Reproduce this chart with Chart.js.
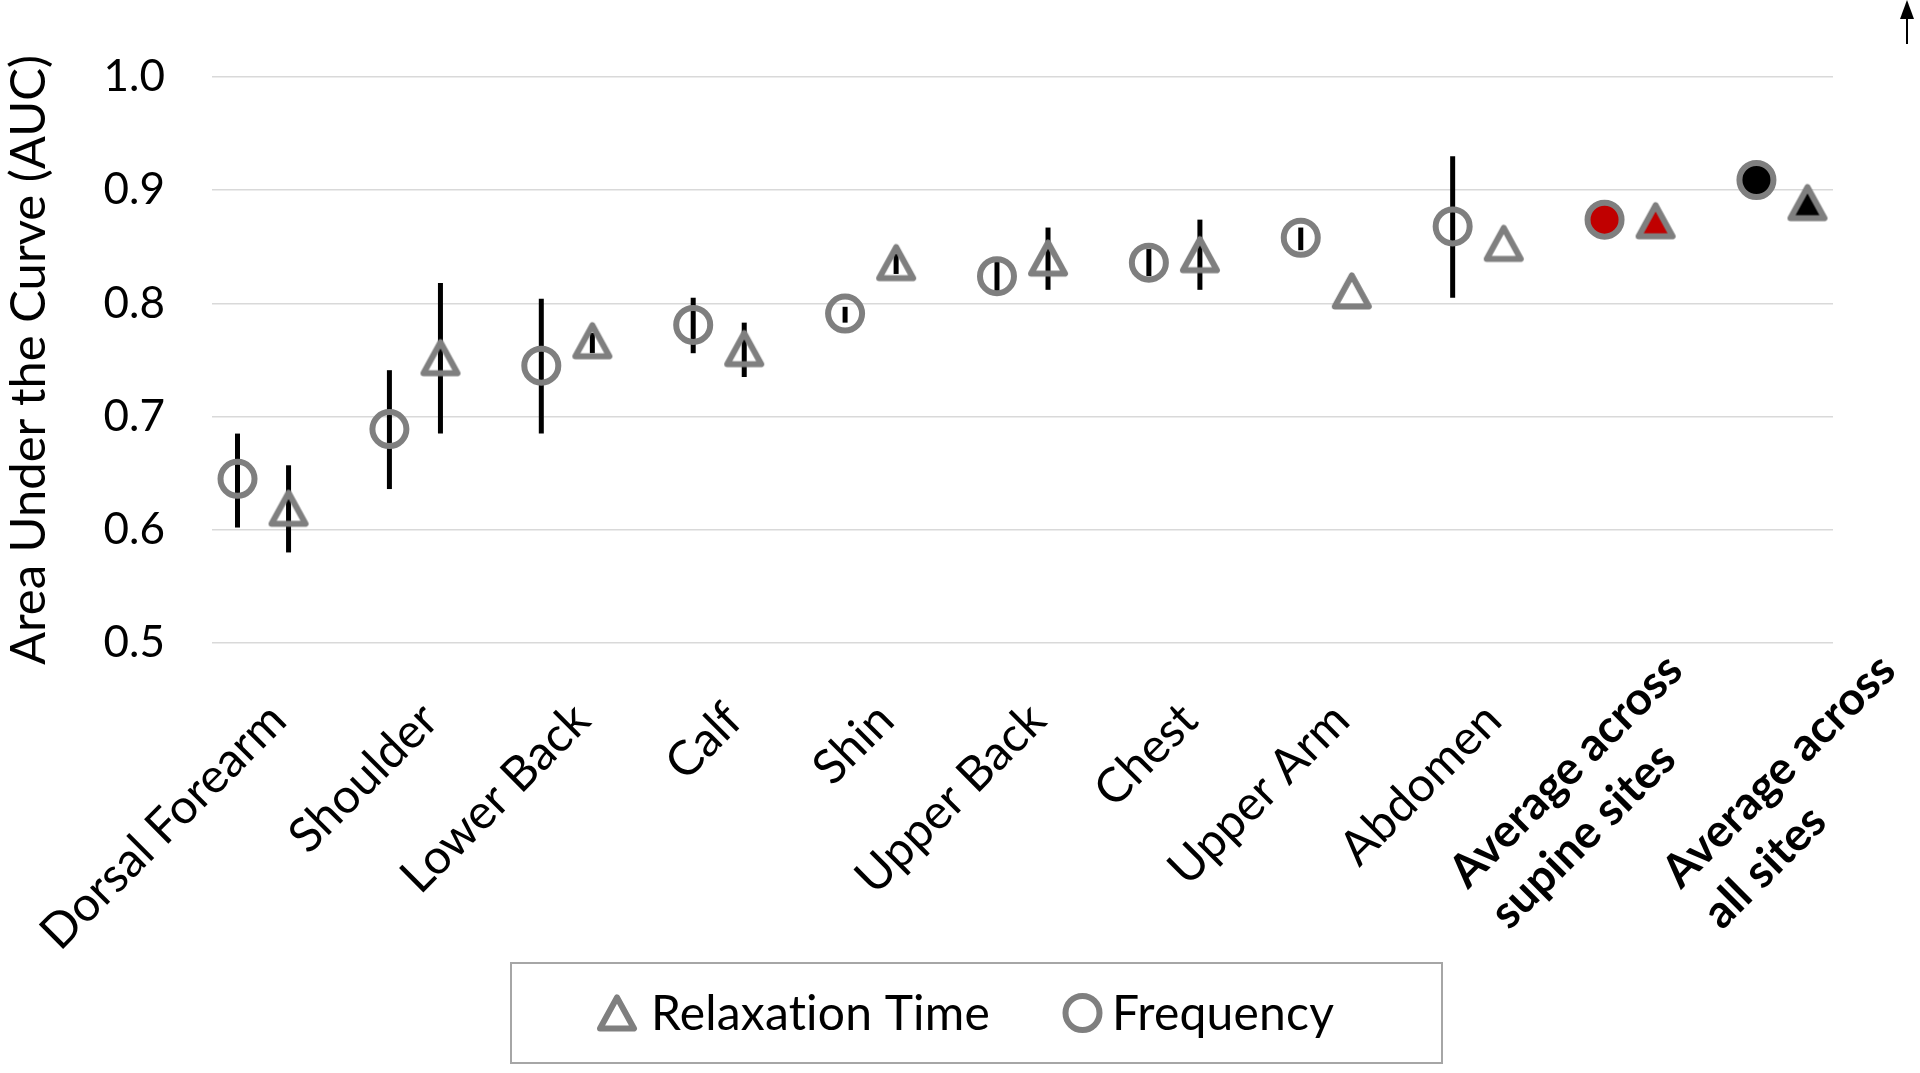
<!DOCTYPE html>
<html lang="en">
<head>
<meta charset="UTF-8" />
<title>AUC by Measurement Site</title>
<script src="https://cdn.jsdelivr.net/npm/chart.js"></script>
<style>
    html, body {
        margin: 0;
        padding: 0;
        background: #ffffff;
    }

    .chart-box {
        width: 1920px;
        height: 1073px;
    }
</style>
</head>
<body>

<div class="chart-box">
    <canvas id="aucChart" width="1920" height="1073"></canvas>
</div>

<script>
    // measurement sites (last two are averages, shown in bold)
    const sites = [
        'Dorsal Forearm', 'Shoulder', 'Lower Back', 'Calf', 'Shin', 'Upper Back',
        'Chest', 'Upper Arm', 'Abdomen',
        ['Average across', 'supine sites'],
        ['Average across', 'all sites']
    ];
    const yTicks = [0.5, 0.6, 0.7, 0.8, 0.9, 1.0];

    // Relaxation Time (triangles)
    const relaxation = [0.619, 0.752, 0.767, 0.760, 0.836, 0.840, 0.843, 0.811, 0.853, 0.873, 0.889];
    const relaxLow   = [0.580, 0.685, 0.756, 0.735, 0.826, 0.812, 0.812, null, null, null, null];
    const relaxHigh  = [0.657, 0.818, 0.774, 0.783, 0.844, 0.867, 0.874, null, null, null, null];

    // Frequency (circles)
    const frequency = [0.645, 0.689, 0.745, 0.781, 0.791, 0.824, 0.836, 0.858, 0.868, 0.874, 0.909];
    const freqLow   = [0.602, 0.636, 0.685, 0.756, 0.783, 0.811, 0.824, 0.847, 0.805, null, null];
    const freqHigh  = [0.685, 0.741, 0.804, 0.805, 0.797, 0.837, 0.848, 0.867, 0.930, null, null];

    const GRAY = '#7f7f7f';
    const SHIFT = 0.168;   // side-by-side offset of the two series inside a site
    const FONT = 'Lato, "Open Sans", sans-serif';

    function fillFor(i) {
        if (i === 9) return '#c00000';
        if (i === 10) return '#000000';
        return 'rgba(0,0,0,0)';
    }

    // triangle marker drawn once into a small canvas so it is centred like Excel's
    function triangleMarker(fill) {
        const c = document.createElement('canvas');
        c.width = 44;
        c.height = 44;
        const g = c.getContext('2d');
        g.beginPath();
        g.moveTo(22, 6.5);
        g.lineTo(39, 37.5);
        g.lineTo(5, 37.5);
        g.closePath();
        if (fill !== 'rgba(0,0,0,0)') {
            g.fillStyle = fill;
            g.fill();
        }
        g.lineWidth = 6;
        g.lineJoin = 'round';
        g.strokeStyle = GRAY;
        g.stroke();
        return c;
    }

    const triangles = relaxation.map((_, i) => triangleMarker(fillFor(i)));

    // vertical error bars, under the markers
    const errorBars = {
        id: 'errorBars',
        beforeDatasetsDraw(chart) {
            const { ctx, scales: { x, y } } = chart;
            const series = [
                { low: relaxLow, high: relaxHigh, shift: SHIFT },
                { low: freqLow, high: freqHigh, shift: -SHIFT }
            ];
            ctx.save();
            ctx.strokeStyle = '#000000';
            ctx.lineWidth = 5;
            series.forEach(s => {
                s.low.forEach((lo, i) => {
                    if (lo === null) return;
                    const px = x.getPixelForValue(i + s.shift);
                    ctx.beginPath();
                    ctx.moveTo(px, y.getPixelForValue(lo));
                    ctx.lineTo(px, y.getPixelForValue(s.high[i]));
                    ctx.stroke();
                });
            });
            ctx.restore();
        }
    };

    // rotated site names under the axis
    const siteLabels = {
        id: 'siteLabels',
        afterDraw(chart) {
            const { ctx, scales: { x, y } } = chart;
            const bottom = y.getPixelForValue(0.5);
            ctx.save();
            ctx.fillStyle = '#000000';
            ctx.textBaseline = 'alphabetic';
            sites.forEach((name, i) => {
                const lines = Array.isArray(name) ? name : [name];
                const bold = lines.length > 1;
                ctx.font = bold ? 'bold 46px ' + FONT : '48px ' + FONT;
                let dx = 26, dy = 80;
                if (i === 9) { dx = 55; dy = 30; }
                if (i === 10) { dx = 116; dy = 30; }
                const cx = x.getPixelForValue(i);
                ctx.save();
                ctx.translate(cx + dx, bottom + dy);
                ctx.rotate(-Math.PI / 4);
                const w0 = ctx.measureText(lines[0]).width;
                ctx.textAlign = 'left';
                lines.forEach((line, k) => {
                    ctx.fillText(line, -w0, k * 58);
                });
                ctx.restore();
            });
            ctx.restore();
        }
    };

    // boxed legend below the labels
    const boxedLegend = {
        id: 'boxedLegend',
        afterDraw(chart) {
            const ctx = chart.ctx;
            const ds = chart.data.datasets;
            const midY = 1013;
            ctx.save();
            ctx.strokeStyle = '#a6a6a6';
            ctx.lineWidth = 2;
            ctx.strokeRect(511, 963, 931, 100);

            ctx.drawImage(triangles[0], 617 - 22, midY - 22);
            ctx.beginPath();
            ctx.arc(1082.5, midY, 17, 0, Math.PI * 2);
            ctx.lineWidth = 6;
            ctx.strokeStyle = GRAY;
            ctx.stroke();

            ctx.fillStyle = '#000000';
            ctx.font = '48px ' + FONT;
            ctx.letterSpacing = '0.2px';   // keeps "ti" from turning into a ligature
            ctx.textAlign = 'left';
            ctx.textBaseline = 'alphabetic';
            ctx.fillText(ds[0].label, 651, 1030);
            ctx.fillText(ds[1].label, 1112, 1030);
            ctx.restore();
        }
    };

    // small arrow in the top-right corner
    const cornerArrow = {
        id: 'cornerArrow',
        afterDraw(chart) {
            const ctx = chart.ctx;
            ctx.save();
            ctx.strokeStyle = '#000000';
            ctx.fillStyle = '#000000';
            ctx.lineWidth = 2;
            ctx.beginPath();
            ctx.moveTo(1907, 44);
            ctx.lineTo(1907, 16);
            ctx.stroke();
            ctx.beginPath();
            ctx.moveTo(1907, 0);
            ctx.lineTo(1914, 19);
            ctx.lineTo(1900, 19);
            ctx.closePath();
            ctx.fill();
            ctx.restore();
        }
    };

    const aucChart = new Chart(document.getElementById('aucChart'), {
        type: 'scatter',
        data: {
            datasets: [
                {
                    label: 'Relaxation Time',
                    data: relaxation.map((v, i) => ({ x: i + SHIFT, y: v })),
                    pointStyle: triangles,
                    pointRadius: 20,
                    pointHoverRadius: 20
                },
                {
                    label: 'Frequency',
                    data: frequency.map((v, i) => ({ x: i - SHIFT, y: v })),
                    pointStyle: 'circle',
                    pointRadius: 17,
                    pointHoverRadius: 17,
                    pointBorderWidth: 6,
                    pointHoverBorderWidth: 6,
                    pointBorderColor: GRAY,
                    pointBackgroundColor: frequency.map((_, i) => fillFor(i))
                }
            ]
        },
        options: {
            responsive: false,
            animation: false,
            layout: {
                padding: { top: 77, right: 87, left: 0, bottom: 0 }
            },
            scales: {
                x: {
                    type: 'linear',
                    min: -0.336,
                    max: 10.336,
                    grid: { display: false },
                    border: { display: false },
                    ticks: { display: false },
                    afterFit: s => { s.height = 430; }
                },
                y: {
                    min: 0.5,
                    max: 1.0,
                    afterBuildTicks: s => { s.ticks = yTicks.map(v => ({ value: v })); },
                    grid: { color: '#d9d9d9', lineWidth: 1.5, drawTicks: false },
                    border: { display: false },
                    ticks: {
                        padding: 47,
                        color: '#000000',
                        font: { family: FONT, size: 44 },
                        callback: v => v.toFixed(1)
                    },
                    title: {
                        display: true,
                        text: 'Area Under the Curve (AUC)',
                        color: '#000000',
                        font: { family: FONT, size: 49 },
                        padding: 0
                    },
                    afterFit: s => { s.width = 212; }
                }
            },
            plugins: {
                legend: { display: false },
                tooltip: { enabled: false }
            }
        },
        plugins: [errorBars, siteLabels, boxedLegend, cornerArrow]
    });
</script>

</body>
</html>
